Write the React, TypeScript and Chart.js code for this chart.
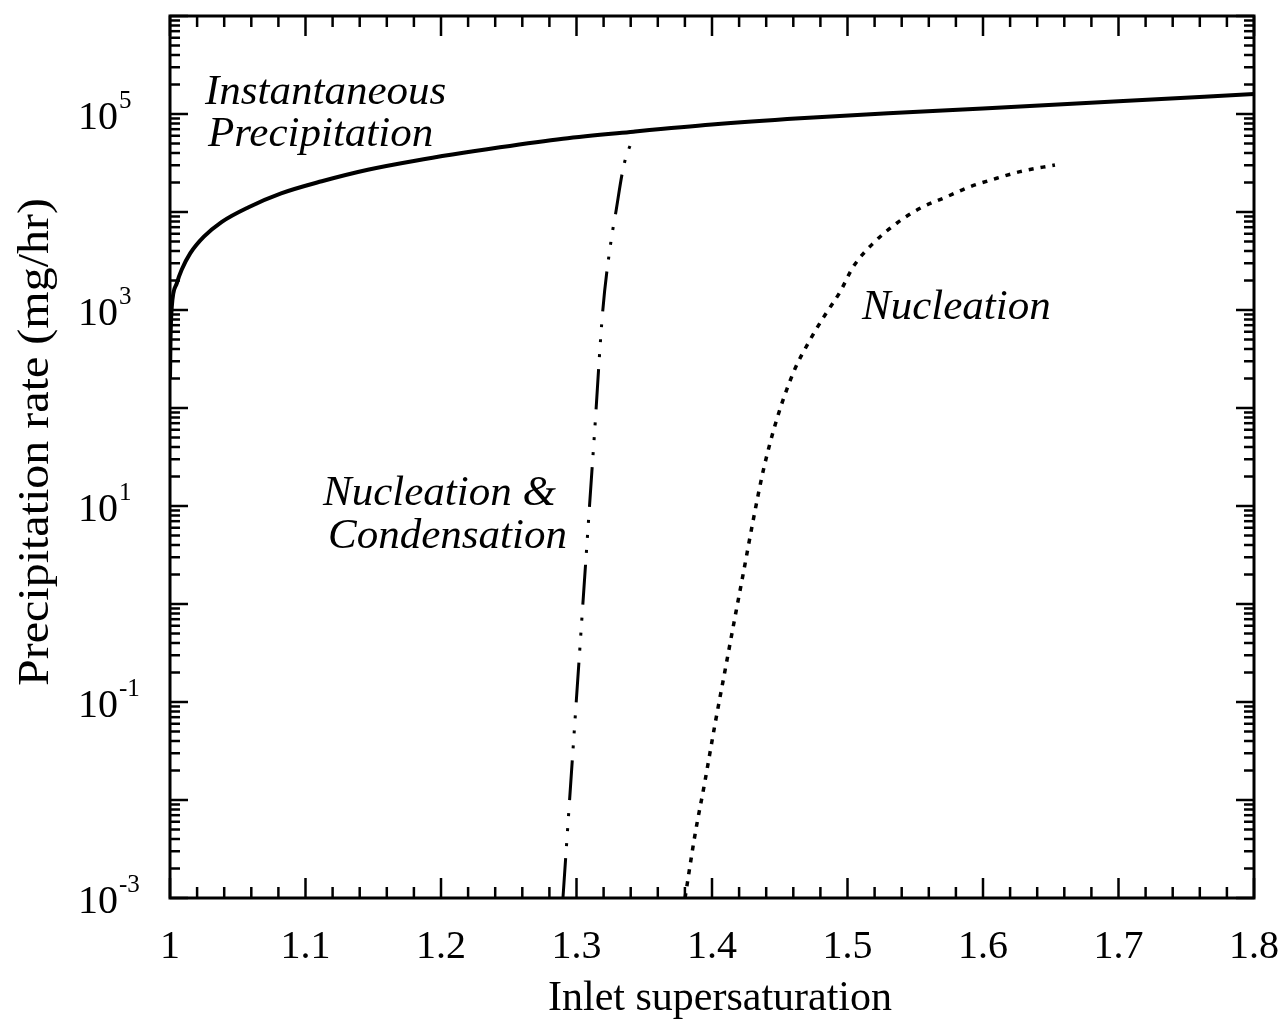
import React, { useEffect, useRef } from "react";
import { Chart, registerables } from "chart.js";

Chart.register(...registerables);

// ---------- data ----------
const instantX = [1.0, 1.0004, 1.0013, 1.005, 1.0086, 1.015, 1.025, 1.038, 1.058, 1.082, 1.112, 1.146, 1.181, 1.2435, 1.29, 1.342, 1.4, 1.465, 1.53, 1.6, 1.7, 1.8];
const instantY = [200, 520, 1070, 1870, 2570, 3800, 5600, 7900, 11200, 15500, 20600, 27000, 33400, 45700, 56000, 66000, 78000, 90400, 102000, 114000, 135000, 160000];

const nucCondX = [1.29, 1.2998, 1.307, 1.3096, 1.3133, 1.3193, 1.3255, 1.3289, 1.3338, 1.3365, 1.3407];
const nucCondY = [0.001, 0.1, 2.94, 10, 55.6, 955, 5090, 9700, 25100, 36300, 52100];

const nucX = [1.3801, 1.3875, 1.3945, 1.4022, 1.4092, 1.4162, 1.4233, 1.4303, 1.4379, 1.4478, 1.46, 1.4723, 1.4834, 1.4945, 1.5043, 1.519, 1.5363, 1.5535, 1.5732, 1.5904, 1.6101, 1.6273, 1.6531];
const nucY = [0.001, 0.00446, 0.0147, 0.0592, 0.195, 0.644, 2.13, 7.03, 23.2, 76.5, 229, 494, 889, 1530, 2770, 4800, 7680, 10900, 14300, 18100, 22100, 25800, 30200];

const xTickValues = [1, 1.1, 1.2, 1.3, 1.4, 1.5, 1.6, 1.7, 1.8];
const xTickLabels = ["1", "1.1", "1.2", "1.3", "1.4", "1.5", "1.6", "1.7", "1.8"];
const xMinorStep = 0.02;
const yLabelExponents = [-3, -1, 1, 3, 5];
const yDecadeExponents = [-3, -2, -1, 0, 1, 2, 3, 4, 5, 6];

const xTitle = "Inlet supersaturation";
const yTitle = "Precipitation rate (mg/hr)";

// annotation texts (anchored in data space: x value, log10 of y value at baseline)
const annotationTexts = ["Instantaneous", "Precipitation", "Nucleation &", "Condensation", "Nucleation"];
const annotationX = [1.0258, 1.028, 1.1129, 1.1166, 1.5107];
const annotationExp = [5.102, 4.673, 1.01, 0.571, 2.908];

const toPoints = (xs: number[], ys: number[]) => xs.map((x, i) => ({ x, y: ys[i] }));

const SERIF = '"Liberation Serif", "Times New Roman", serif';

const paperPlugin = {
  id: "paperAxes",
  beforeDraw(chart: any) {
    const ctx = chart.ctx;
    ctx.save();
    ctx.fillStyle = "#fff";
    ctx.fillRect(0, 0, chart.width, chart.height);
    ctx.restore();
  },
  afterDatasetsDraw(chart: any) {
    const ctx: CanvasRenderingContext2D = chart.ctx;
    const { left, right, top, bottom } = chart.chartArea;
    const xs = chart.scales.x;
    const ys = chart.scales.y;
    const line = (x1: number, y1: number, x2: number, y2: number) => {
      ctx.beginPath();
      ctx.moveTo(x1, y1);
      ctx.lineTo(x2, y2);
      ctx.stroke();
    };
    ctx.save();
    ctx.strokeStyle = "#000";
    ctx.lineCap = "butt";
    // x ticks (minor + major), bottom and top, pointing inward
    ctx.lineWidth = 2.5;
    const nMinor = Math.round((xs.max - xs.min) / xMinorStep);
    for (let i = 0; i <= nMinor; i++) {
      const v = xs.min + i * xMinorStep;
      const px = xs.getPixelForValue(v);
      const major = i % 5 === 0;
      const len = major ? 20 : 11;
      line(px, bottom, px, bottom - len);
      line(px, top, px, top + len);
    }
    // y ticks, left and right
    for (const e of yDecadeExponents) {
      for (let m = 1; m <= 9; m++) {
        const v = m * Math.pow(10, e);
        if (v > ys.max * 1.0001) break;
        const py = ys.getPixelForValue(v);
        const len = m === 1 ? 18 : 10;
        line(left, py, left + len, py);
        line(right, py, right - len, py);
      }
    }
    // frame
    ctx.lineWidth = 3;
    ctx.strokeRect(left, top, right - left, bottom - top);

    // x tick labels
    ctx.fillStyle = "#000";
    ctx.font = `40px ${SERIF}`;
    ctx.textAlign = "center";
    ctx.textBaseline = "alphabetic";
    xTickValues.forEach((v, i) => {
      ctx.fillText(xTickLabels[i], xs.getPixelForValue(v), bottom + 60);
    });

    // y tick labels 10^n
    for (const e of yLabelExponents) {
      const py = ys.getPixelForValue(Math.pow(10, e));
      ctx.textAlign = "left";
      ctx.font = `40px ${SERIF}`;
      ctx.fillText("10", 78, py + 15);
      const w = ctx.measureText("10").width;
      ctx.font = `25px ${SERIF}`;
      ctx.fillText(e < 0 ? "-" + Math.abs(e) : String(e), 78 + w + 1, py - 6);
    }

    // axis titles
    ctx.font = `42px ${SERIF}`;
    ctx.textAlign = "center";
    ctx.fillText(xTitle, 720, bottom + 112);

    ctx.save();
    ctx.translate(36, 442);
    ctx.rotate(-Math.PI / 2);
    ctx.font = `44px ${SERIF}`;
    ctx.textBaseline = "middle";
    const tw = ctx.measureText(yTitle).width;
    const sx = 488 / tw;
    ctx.scale(sx, 1);
    ctx.fillText(yTitle, 0, 0);
    ctx.restore();

    // annotations
    ctx.font = `italic 43px ${SERIF}`;
    ctx.textAlign = "left";
    ctx.textBaseline = "alphabetic";
    annotationTexts.forEach((t, i) => {
      const px = xs.getPixelForValue(annotationX[i]);
      const py = ys.getPixelForValue(Math.pow(10, annotationExp[i]));
      ctx.fillText(t, px, py);
    });
    ctx.restore();
  },
};

export default function App() {
  const ref = useRef<HTMLCanvasElement | null>(null);
  useEffect(() => {
    if (!ref.current) return;
    const chart = new Chart(ref.current, {
      type: "line",
      data: {
        datasets: [
          {
            label: "Instantaneous Precipitation",
            data: toPoints(instantX, instantY),
            borderColor: "#000",
            borderWidth: 4,
            pointRadius: 0,
            cubicInterpolationMode: "monotone",
            fill: false,
          },
          {
            label: "Nucleation & Condensation",
            data: toPoints(nucCondX, nucCondY),
            borderColor: "#000",
            borderWidth: 3,
            borderDash: [40, 12, 3, 12, 3, 12, 3, 13],
            pointRadius: 0,
            cubicInterpolationMode: "monotone",
            fill: false,
          },
          {
            label: "Nucleation",
            data: toPoints(nucX, nucY),
            borderColor: "#000",
            borderWidth: 3.5,
            borderDash: [5, 7],
            pointRadius: 0,
            cubicInterpolationMode: "monotone",
            fill: false,
          },
        ],
      },
      options: {
        responsive: false,
        maintainAspectRatio: false,
        devicePixelRatio: 1,
        animation: false,
        parsing: false as any,
        layout: { padding: { left: 170, right: 34, top: 16, bottom: 126 } },
        plugins: { legend: { display: false }, tooltip: { enabled: false } },
        scales: {
          x: { type: "linear", min: 1, max: 1.8, display: false },
          y: { type: "logarithmic", min: 0.001, max: 1e6, display: false },
        },
      },
      plugins: [paperPlugin],
    });
    return () => chart.destroy();
  }, []);
  return (
    <div style={{ position: "fixed", left: 0, top: 0, width: 1288, height: 1024, background: "#fff" }}>
      <canvas ref={ref} width={1288} height={1024} style={{ display: "block", width: 1288, height: 1024 }} />
    </div>
  );
}
